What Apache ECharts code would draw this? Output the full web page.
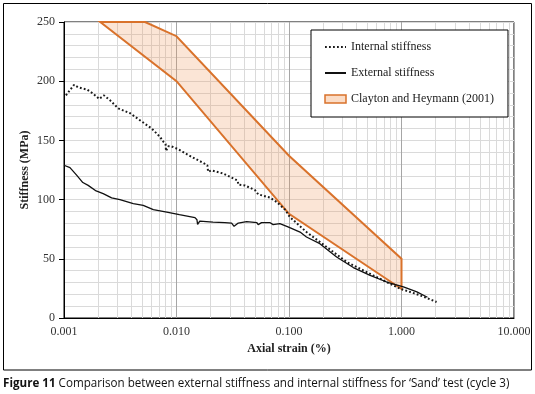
<!DOCTYPE html>
<html>
<head>
<meta charset="utf-8">
<script src="https://cdn.jsdelivr.net/npm/echarts@6/dist/echarts.min.js"></script>
<style>
  html, body { margin: 0; padding: 0; background: #fff; }
  #chart { width: 535px; height: 394px; }
</style>
</head>
<body>
<div id="chart"></div>
<script>
// internal stiffness (dotted)
var internalStrain = [0.00104, 0.00112, 0.00123, 0.00133, 0.00144, 0.00160, 0.00178, 0.00195, 0.00205, 0.00227,
  0.00256, 0.00304, 0.00386, 0.00490, 0.00602, 0.00714, 0.00763, 0.00800, 0.00807, 0.00845,
  0.0090, 0.0104, 0.0115, 0.0140, 0.0173, 0.0188, 0.0191, 0.0205, 0.026, 0.0309,
  0.0350, 0.0354, 0.0405, 0.0499, 0.0532, 0.0675, 0.0778, 0.0921, 0.1018, 0.143,
  0.216, 0.326, 0.560, 0.97, 1.46, 2.05];
var internalStiff = [188, 192, 197, 195, 194, 193, 190, 187, 185, 188,
  184, 177, 173, 166, 160, 153, 149, 147, 141, 145,
  145, 142.5, 140, 135.5, 131, 129, 123.5, 124.7, 122, 118.6,
  116, 112.7, 112, 108, 104.5, 101.7, 98, 91.6, 85.3, 72.6,
  60, 47.3, 36, 24.8, 19.2, 13.5];

// external stiffness (solid)
var externalStrain = [0.00100, 0.00113, 0.00130, 0.00147, 0.00164, 0.00193, 0.00223, 0.00265, 0.00314, 0.00413,
  0.00506, 0.00622, 0.0082, 0.0106, 0.0146, 0.0152, 0.0154, 0.0161, 0.0211, 0.0269,
  0.0309, 0.0325, 0.0354, 0.0420, 0.0518, 0.0532, 0.0570, 0.0675, 0.0722, 0.0829,
  0.098, 0.1254, 0.143, 0.188, 0.265, 0.373, 0.526, 0.74, 1.04, 1.37, 1.57, 1.70];
var externalStiff = [129, 127, 120.5, 114.4, 112, 107.3, 105, 101.4, 100, 96.6,
  95.2, 91.5, 89.5, 87.3, 84.8, 83, 79.1, 81.9, 81, 80.6,
  80.2, 77.4, 80.2, 81.4, 80.6, 78.9, 80.6, 80.6, 78.9, 79.7,
  76.9, 72.6, 68.4, 62.8, 51.5, 42.6, 36, 30.4, 26.2, 22, 19.2, 17.5];

// Clayton and Heymann (2001) band outline (upper edge then lower edge back)
var bandStrain = [0.00525, 0.01, 0.1, 1.0, 1.0, 0.1, 0.01, 0.0021];
var bandStiff = [250, 238, 137, 50, 24.5, 88, 200, 250];

var xTicks = [0.001, 0.01, 0.1, 1, 10];
var yTicks = [0, 50, 100, 150, 200, 250];

var serif = '"Liberation Serif", "DejaVu Serif", serif';
var capFont = '"Open Sans", "Noto Sans", sans-serif';

function pairs(xs, ys) {
  return xs.map(function (x, i) { return [x, ys[i]]; });
}

// hide the round marker ECharts puts on line legend icons
var noMarker = { color: 'rgba(0,0,0,0)', borderWidth: 0 };

var chart = echarts.init(document.getElementById('chart'));
chart.setOption({
  animation: false,
  backgroundColor: '#fff',
  grid: {
    left: 64, right: 21, top: 22, bottom: 76,
    show: true, borderColor: '#000', borderWidth: 1
  },
  legend: {
    orient: 'vertical',
    left: 311, top: 30,
    padding: [11, 14, 12, 13],
    itemGap: 14,
    itemWidth: 21, itemHeight: 8,
    borderColor: '#000', borderWidth: 1,
    backgroundColor: '#fff',
    textStyle: { fontFamily: serif, fontSize: 12, color: '#222' },
    data: [
      { name: 'Internal stiffness', itemStyle: noMarker },
      { name: 'External stiffness', itemStyle: noMarker },
      { name: 'Clayton and Heymann (2001)', icon: 'rect',
        itemStyle: { color: '#fbdcc6', borderColor: '#d9722b', borderWidth: 1.5 } }
    ]
  },
  xAxis: {
    type: 'log', logBase: 10,
    min: xTicks[0], max: xTicks[xTicks.length - 1],
    name: 'Axial strain (%)', nameLocation: 'middle', nameGap: 24,
    nameTextStyle: { fontFamily: serif, fontSize: 12, fontWeight: 'bold', color: '#222' },
    axisLine: { show: true, lineStyle: { color: '#000', width: 1 } },
    axisTick: { show: false },
    axisLabel: {
      margin: 8, fontFamily: serif, fontSize: 12, color: '#333',
      formatter: function (v) { return Number(v).toFixed(3); }
    },
    splitLine: { show: true, lineStyle: { color: '#a6a6a6', width: 1 } },
    minorTick: { show: false, splitNumber: 9 },
    minorSplitLine: { show: true, lineStyle: { color: '#dadada', width: 1 } }
  },
  yAxis: {
    type: 'value',
    min: yTicks[0], max: yTicks[yTicks.length - 1], interval: 50,
    name: 'Stiffness (MPa)', nameLocation: 'middle', nameGap: 33,
    nameMoveOverlap: false,
    nameTextStyle: { fontFamily: serif, fontSize: 12, fontWeight: 'bold', color: '#222' },
    axisLine: { show: true, lineStyle: { color: '#000', width: 1 } },
    axisTick: { show: true, inside: false, length: 5, lineStyle: { color: '#000' } },
    axisLabel: { margin: 9, fontFamily: serif, fontSize: 12, color: '#333' },
    splitLine: { show: true, lineStyle: { color: '#dadada', width: 1 } },
    minorTick: { show: false, splitNumber: 5 },
    minorSplitLine: { show: true, lineStyle: { color: '#dadada', width: 1 } }
  },
  series: [
    {
      name: 'Clayton and Heymann (2001)',
      type: 'custom',
      data: [[bandStrain[0], bandStiff[0]]],
      itemStyle: { color: '#fbdcc6', borderColor: '#d9722b' },
      renderItem: function (params, api) {
        var pts = bandStrain.map(function (x, i) { return api.coord([x, bandStiff[i]]); });
        return {
          type: 'polygon',
          shape: { points: pts },
          style: { fill: 'rgba(240,150,90,0.25)', stroke: '#d9722b', lineWidth: 2 }
        };
      }
    },
    {
      name: 'Internal stiffness',
      type: 'line',
      data: pairs(internalStrain, internalStiff),
      symbol: 'none',
      lineStyle: { color: '#1a1a1a', width: 2, type: [1.8, 2.2] },
      itemStyle: { color: '#1a1a1a' }
    },
    {
      name: 'External stiffness',
      type: 'line',
      data: pairs(externalStrain, externalStiff),
      symbol: 'none',
      lineStyle: { color: '#111', width: 1.3 },
      itemStyle: { color: '#111' }
    }
  ],
  graphic: [
    {
      type: 'rect', silent: true,
      shape: { x: 3.5, y: 3.5, width: 528, height: 366.5 },
      style: { fill: null, stroke: '#000', lineWidth: 1 }
    },
    {
      type: 'text', x: 3, y: 383, scaleX: 0.93,
      style: {
        text: '{b|Figure 11} Comparison between external stiffness and internal stiffness for \u2018Sand\u2019 test (cycle 3)',
        verticalAlign: 'middle',
        font: '12.5px ' + capFont,
        fill: '#111',
        rich: {
          b: { fontWeight: 'bold', fontSize: 12.5, fontFamily: capFont, fill: '#111' }
        }
      }
    }
  ]
});
</script>
</body>
</html>
